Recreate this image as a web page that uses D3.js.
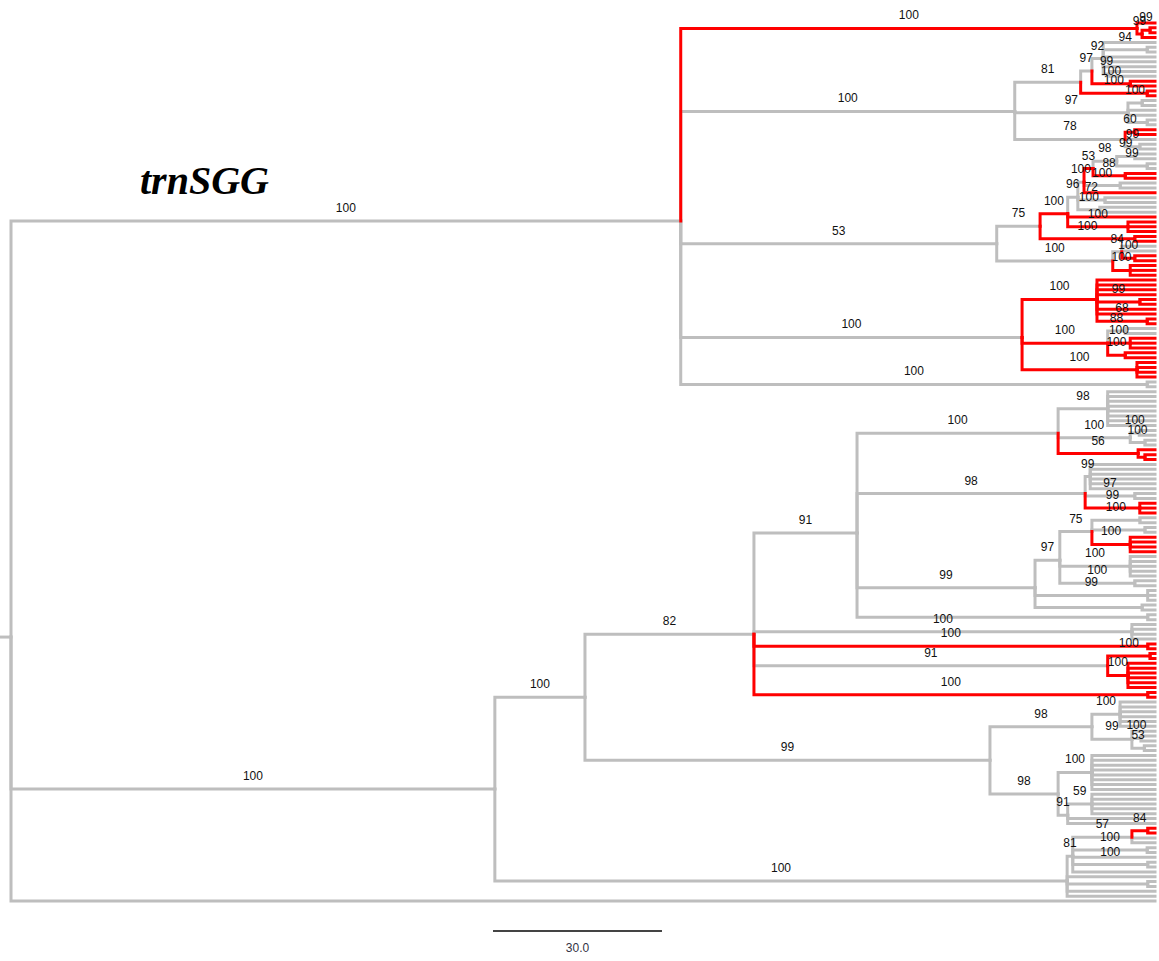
<!DOCTYPE html>
<html><head><meta charset="utf-8">
<script src="https://cdn.jsdelivr.net/npm/d3@7"></script>
<style>body{margin:0;background:#fff}</style>
</head><body>
<svg id="chart" width="1159" height="961"></svg>
<script>
// ---------------- DATA ----------------
const titleText = "trnSGG";
const tipDepth = 203.1;          // depth reached by the tips (units of the scale bar)
const rootEdgeLength = 1.95;
const scaleBarValue = 30;
const scaleBarLabel = "30.0";

// Newick pieces: leaf "g" = grey, "r" = red; internal label "<support>[r]" ; ":length"
const cladeA1 = "(r,((r,r)99r:1.4,r)99r:0.9)100r:81.0";
const cladeA2 = "((((g,(g,g)94:7.8,g,g,g,(g,g)99:1.2)92:2.0,(r,r)100r:6.8)97:2.0,(r,r)100r:11.8)81:11.7,((g,g)100:2.5,g,g,(g,g):3.4)97:20.1,((r,r)60r:1.7,g,(g,g)99:2.6)78:19.6)100:59.3";
const cladeA3 = "((((((((g,g)99:3.2,(g,g)99:5.4)98:4.2,(r,r)88r:5.7)53r:1.6,(g,g)100:6.4,r)100:1.1,(g,g)72:4.8,(g,g)100:3.9)96:1.8,r,(r,r,r)100r:10.7)100r:4.9,(r,r)100r:16.8)75:7.7,((g,g,(r,r)100r:2.3)84:1.6,(r,r,r)100r:3.1)100:20.6)53:56.1";
const cladeA4 = "((r,r,r,r,(r,r)99r:7.6,r,r,(r,r)68r:8.9)100r:13.3,((g,g)88:3.1,(r,r,r)100r:4.0,(r,r)100r:3.1)100r:15.2,(r,r,r,r)100r:20.4)100:60.6";
const cladeA5 = "(g,g)100:82.8";
const cladeANode = ")100:118.9";

const cladeB1a1Parts = [
  "((g,g,g,g,g,g,g,g)98:8.8,((g,g)100:1.6,(g,g)100:2.6)100:12.8,(r,(r,r)r:1.2)56r:14.2)100:35.7",
  "((g,g,g,g,g,g)99:0.9,(g,g)97:8.8,(r,r,r)99r:9.7)98:40.5",
  "((((g,g)100:8.5,(g,g):9.4,(r,r,r,r)100r:6.8)75:5.7,(g,g,g,g,g)100:12.5,(g,g)100:13.3)97:4.4,(g,g,g)99:20.0,(g,g):19.0)99:31.6",
  "(g,g):51.6"
];
const cladeB1a1Node = ")91:18.3";
const cladeB1aParts = [
  "(g,g,g,g)100:67.1",
  "(r,r)100r:69.9",
  "((r,r)100r:7.5,(r,r,r,r,r,r)100r:3.6)91:62.8",
  "(r,r)100r:69.9"
];
const cladeB1aNode = ")82:30.0";
const cladeB1b = "(((g,g,g,g,g,g)100:5.0,(g,(g,g)100:1.6,(g,g)53:2.2)99:7.1)98:18.1,((g,g,g,g,g,g,g,g)100:6.0,((g,g,g,g,g)59:4.3,g,g)91:1.7)98:12.1)99:71.9";
const cladeB1Node = ")100:16.0";
const cladeB2n81 = "(((r,r)84r:2.8,g,g)57:10.5,(g,g)100:13.2,g,(g,g)100:13.3,g)81:1.0";
const cladeB2Rest = ",g,(g,g):14.3,g,g)100:101.6";
const cladeBNode = ")100:85.9";
const outgroup = "g";

// ---------------- BUILD ----------------
const cladeA = "(" + [cladeA1, cladeA2, cladeA3, cladeA4, cladeA5].join(",") + cladeANode;
const cladeB1a1 = "(" + cladeB1a1Parts.join(",") + cladeB1a1Node;
const cladeB1a = "(" + [cladeB1a1].concat(cladeB1aParts).join(",") + cladeB1aNode;
const cladeB1 = "(" + cladeB1a + "," + cladeB1b + cladeB1Node;
const cladeB2 = "(" + cladeB2n81 + cladeB2Rest;
const cladeB = "(" + cladeB1 + "," + cladeB2 + cladeBNode;
const treeString = "(" + [cladeA, cladeB, outgroup].join(",") + ")";

function parseNewick(s) {
  let i = 0;
  function node() {
    const n = {};
    if (s[i] === "(") {
      i++;
      n.children = [node()];
      while (s[i] === ",") { i++; n.children.push(node()); }
      i++;
    }
    let lab = "";
    while (i < s.length && !",():;".includes(s[i])) lab += s[i++];
    if (s[i] === ":") {
      i++;
      let num = "";
      while (i < s.length && !",();".includes(s[i])) num += s[i++];
      n.length = +num;
    }
    n.red = /r$/.test(lab);
    n.support = n.children ? lab.replace(/[rg]$/, "") : "";
    return n;
  }
  return node();
}

const root = d3.hierarchy(parseNewick(treeString));
root.eachBefore(d => {
  if (!d.parent) d.dist = 0;
  else if (d.data.length != null) d.dist = d.parent.dist + d.data.length;
  else d.dist = tipDepth;
});
const leaves = root.leaves();
leaves.forEach((d, k) => d.yi = k);
root.eachAfter(d => { if (d.children) d.yi = d3.mean(d.children, c => c.yi); });

const x = d3.scaleLinear().domain([0, tipDepth]).range([11, 1155]);
const y = d3.scaleLinear().domain([0, leaves.length - 1]).range([23, 901]);

const svg = d3.select("#chart");
const grey = "#bebebe", red = "#ff0000";
const edges = root.descendants().filter(d => d.parent);
const gEdges = svg.append("g").attr("fill", "none").attr("stroke-width", 3).attr("stroke-linecap", "square");

function edgePath(d) {
  return `M${x(d.parent.dist)},${y(d.parent.yi)}V${y(d.yi)}H${x(d.dist)}`;
}
gEdges.selectAll("path.g").data(edges.filter(d => !d.data.red)).join("path")
  .attr("d", edgePath).attr("stroke", grey);
gEdges.selectAll("path.r").data(edges.filter(d => d.data.red)).join("path")
  .attr("d", edgePath).attr("stroke", red);
// root edge
gEdges.append("path")
  .attr("d", `M${x(-rootEdgeLength)},${y(root.yi)}H${x(0)}`).attr("stroke", grey).attr("stroke-linecap", "butt");

// support labels
svg.append("g").attr("font-family", "Liberation Sans, Arial, sans-serif").attr("font-size", 12)
  .attr("fill", "#111").attr("text-anchor", "middle")
  .selectAll("text").data(edges.filter(d => d.data.support)).join("text")
  .attr("x", d => (x(d.parent.dist) + x(d.dist)) / 2)
  .attr("y", d => y(d.yi) - 9)
  .text(d => d.data.support);

// title
svg.append("text").attr("x", 140).attr("y", 194)
  .attr("font-family", "Liberation Serif, Times New Roman, serif")
  .attr("font-style", "italic").attr("font-weight", "bold").attr("font-size", 40)
  .attr("fill", "#000").text(titleText);

// scale bar
const sbX = 493, sbY = 931;
svg.append("line").attr("x1", sbX).attr("x2", sbX + x(scaleBarValue) - x(0))
  .attr("y1", sbY).attr("y2", sbY).attr("stroke", "#444").attr("stroke-width", 2);
svg.append("text").attr("x", sbX + (x(scaleBarValue) - x(0)) / 2).attr("y", sbY + 21)
  .attr("text-anchor", "middle").attr("font-family", "Liberation Sans, Arial, sans-serif")
  .attr("font-size", 12).attr("fill", "#334").text(scaleBarLabel);
</script>
</body></html>
